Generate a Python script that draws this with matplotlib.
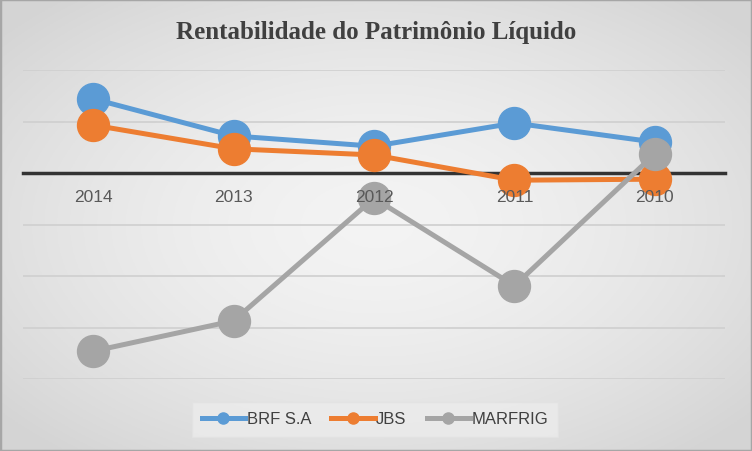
import numpy as np
import matplotlib
matplotlib.use('Agg')
from matplotlib import pyplot as plt
from matplotlib import transforms

years = ["2014", "2013", "2012", "2011", "2010"]
brf = [14.4, 7.2, 5.2, 9.7, 6.0]
jbs = [9.3, 4.7, 3.5, -1.4, -1.2]
marfrig = [-34.6, -28.7, -4.9, -21.9, 3.7]

fig = plt.figure(figsize=(7.52, 4.52), dpi=100)

# radial gradient background
bg = fig.add_axes([0, 0, 1, 1], zorder=-10)
gx, gy = np.meshgrid(np.linspace(-1, 1, 300), np.linspace(-1, 1, 200))
r = np.clip(np.sqrt(gx**2 + gy**2) / 1.3, 0, 1)
shade = 0.955 - 0.12 * r**1.6
bg.imshow(np.dstack([shade, shade, shade]), aspect='auto', extent=[0, 1, 0, 1])
bg.axis('off')
bg.add_patch(plt.Rectangle((0, 0), 1, 1, transform=bg.transAxes, fill=False,
                           edgecolor='#a6a6a6', linewidth=2.5))

ax = fig.add_axes([23/752, (452-380)/452, 702/752, 309/452])
ax.set_facecolor('none')
x = np.arange(len(years))

ax.set_xlim(-0.5, len(years) - 0.5)
ax.set_ylim(-40, 20)
ax.set_yticks(np.arange(-40, 21, 10))
ax.yaxis.grid(True, color='#cfcfcf', linewidth=1.2)
ax.tick_params(axis='y', left=False, labelleft=False)
ax.tick_params(axis='x', length=0, labelbottom=False)
for side in ['top', 'right', 'left']:
    ax.spines[side].set_visible(False)
ax.spines['bottom'].set_position(('data', 0))
ax.spines['bottom'].set_color('#333333')
ax.spines['bottom'].set_linewidth(2.5)
ax.spines['bottom'].set_zorder(1)
ax.set_axisbelow(True)
ax.set_xticks(x)

lines = [("BRF S.A", brf, '#5B9BD5'),
         ("JBS", jbs, '#ED7D31'),
         ("MARFRIG", marfrig, '#A5A5A5')]
for name, vals, c in lines:
    ax.plot(x, vals, '-o', color=c, linewidth=3.6, markersize=23, label=name,
            zorder=3)

# category labels under the zero line, drawn over the markers
off = transforms.ScaledTranslation(0, -24/100, fig.dpi_scale_trans)
for xi, yr in zip(x, years):
    ax.text(xi, 0, yr, transform=ax.transData + off, ha='center', va='center',
            fontsize=12.5, color='#595959', fontfamily='Liberation Sans', zorder=6)

fig.text(0.5, 0.928, "Rentabilidade do Patrimônio Líquido", ha='center',
         va='center', fontsize=18, fontweight='bold', color='#404040',
         fontfamily='Liberation Serif')

handles = [plt.Line2D([], [], color=c, linewidth=3.6, marker='o', markersize=8)
           for _, _, c in lines]
leg = fig.legend(handles, [n for n, _, _ in lines], loc='center',
                 bbox_to_anchor=(375/752, (452-420)/452), ncol=3, frameon=True,
                 fancybox=False, handlelength=2.6, handletextpad=0.1,
                 columnspacing=1.2, prop={'family': 'Liberation Sans', 'size': 12},
                 borderpad=0.6)
leg.get_frame().set_facecolor('#ececec')
leg.get_frame().set_edgecolor('#e2e2e2')
for t in leg.get_texts():
    t.set_color('#404040')

fig.savefig('out.png', dpi=100)
